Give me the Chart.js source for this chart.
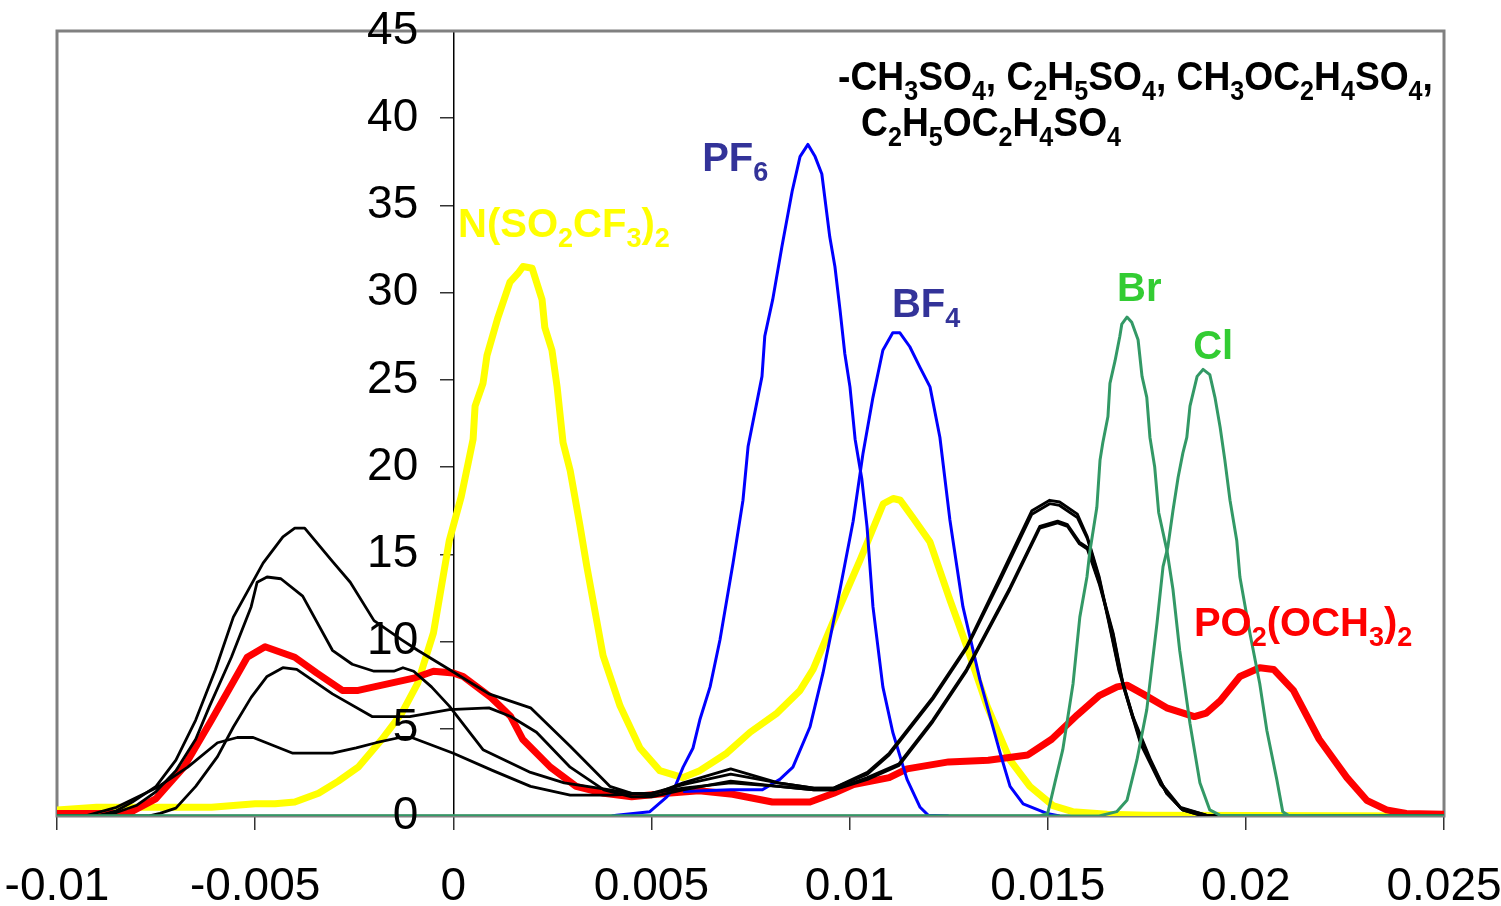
<!DOCTYPE html>
<html>
<head>
<meta charset="utf-8">
<title>Anion distributions</title>
<script src="https://cdn.jsdelivr.net/npm/chart.js@4.4.1/dist/chart.umd.min.js"></script>
<style>
    html, body { margin: 0; padding: 0; background: #ffffff; }
    #wrap { width: 1501px; height: 906px; }
</style>
</head>
<body>
<div id="wrap"><canvas id="anionChart" width="1501" height="906"></canvas></div>
<script>
// axis ticks
const xTickValues = [-0.01, -0.005, 0, 0.005, 0.01, 0.015, 0.02, 0.025];
const xTickLabels = ['-0.01', '-0.005', '0', '0.005', '0.01', '0.015', '0.02', '0.025'];
const yTickValues = [0, 5, 10, 15, 20, 25, 30, 35, 40, 45];
const yTickLabels = ['0', '5', '10', '15', '20', '25', '30', '35', '40', '45'];

// series, [x, y] pairs
const tfsiPoints = [[-0.01, 0.35], [-0.009, 0.5], [-0.0061, 0.5], [-0.005, 0.7], [-0.0045, 0.7], [-0.004, 0.8], [-0.0034, 1.3], [-0.0029, 2.0], [-0.0024, 2.8], [-0.0018, 4.4], [-0.0013, 5.9], [-0.0009, 7.6], [-0.0005, 10.5], [-0.0001, 15.8], [0.0002, 18.3], [0.0005, 21.6], [0.00055, 23.5], [0.00075, 24.8], [0.00085, 26.4], [0.00113, 28.6], [0.00143, 30.6], [0.00163, 31.1], [0.00176, 31.5], [0.00199, 31.4], [0.00224, 29.6], [0.00231, 28.0], [0.00249, 26.7], [0.00262, 24.6], [0.00277, 21.4], [0.00295, 19.8], [0.0032, 16.6], [0.00337, 14.3], [0.00378, 9.2], [0.00421, 6.3], [0.00471, 3.9], [0.00521, 2.6], [0.00579, 2.2], [0.00622, 2.6], [0.0069, 3.6], [0.00749, 4.8], [0.00817, 5.9], [0.00875, 7.2], [0.00908, 8.4], [0.00958, 11.1], [0.01027, 14.7], [0.01085, 17.9], [0.0111, 18.2], [0.01128, 18.1], [0.0116, 17.1], [0.01203, 15.7], [0.01253, 12.4], [0.01296, 9.7], [0.01347, 6.3], [0.01405, 3.2], [0.01455, 1.7], [0.01513, 0.6], [0.01563, 0.25], [0.0165, 0.1], [0.0175, 0.05], [0.025, 0]];
const dmpPoints = [[-0.01, 0.15], [-0.0082, 0.15], [-0.0075, 1.0], [-0.0068, 2.8], [-0.0061, 5.5], [-0.0052, 9.1], [-0.00475, 9.7], [-0.004, 9.1], [-0.00345, 8.2], [-0.0028, 7.2], [-0.0024, 7.2], [-0.001, 7.9], [-0.0005, 8.3], [0, 8.2], [0.00025, 8.0], [0.00095, 6.8], [0.00145, 5.7], [0.00175, 4.4], [0.00245, 2.8], [0.0031, 1.7], [0.0038, 1.3], [0.0045, 1.1], [0.0054, 1.3], [0.0062, 1.45], [0.00705, 1.25], [0.00805, 0.8], [0.009, 0.8], [0.0096, 1.3], [0.0101, 1.8], [0.011, 2.2], [0.01145, 2.7], [0.0125, 3.1], [0.0135, 3.2], [0.0145, 3.5], [0.0151, 4.4], [0.01575, 5.8], [0.0163, 6.9], [0.01675, 7.4], [0.017, 7.5], [0.0174, 7.0], [0.018, 6.2], [0.0187, 5.7], [0.019, 5.9], [0.01935, 6.6], [0.01985, 8.0], [0.02035, 8.5], [0.0207, 8.4], [0.0212, 7.2], [0.02185, 4.4], [0.02255, 2.2], [0.02305, 0.9], [0.02355, 0.35], [0.02405, 0.15], [0.025, 0.1]];
const pf6Points = [[0.004, 0], [0.00412, 0.05], [0.00496, 0.25], [0.00539, 1.1], [0.0056, 1.7], [0.0058, 2.8], [0.00605, 3.9], [0.00622, 5.5], [0.00648, 7.4], [0.00673, 10.1], [0.00706, 14.5], [0.00731, 18.1], [0.00744, 21.2], [0.00779, 25.2], [0.00786, 27.5], [0.00806, 29.6], [0.00829, 32.6], [0.00855, 35.8], [0.00875, 37.8], [0.00895, 38.5], [0.00913, 37.8], [0.0093, 36.8], [0.0095, 33.2], [0.00963, 31.5], [0.00976, 29.0], [0.00988, 26.5], [0.01001, 24.6], [0.01014, 21.6], [0.01031, 19.3], [0.01044, 16.6], [0.01059, 12.0], [0.01084, 7.4], [0.01109, 4.8], [0.01145, 2.1], [0.01178, 0.5], [0.01198, 0.05], [0.0125, 0]];
const bf4Points = [[0.0058, 1.4], [0.007, 1.5], [0.0078, 1.5], [0.00824, 2.1], [0.00857, 2.8], [0.009, 5.1], [0.00933, 8.2], [0.00976, 13.0], [0.01009, 16.9], [0.01034, 20.8], [0.01059, 24.0], [0.01084, 26.7], [0.01109, 27.7], [0.01127, 27.7], [0.01152, 26.9], [0.01178, 25.7], [0.01203, 24.6], [0.01228, 21.7], [0.01253, 17.0], [0.01286, 12.0], [0.01329, 7.8], [0.0138, 3.6], [0.01405, 1.7], [0.01438, 0.7], [0.01498, 0.15], [0.0153, 0]];
const brPoints = [[-0.01, 0], [0.0148, 0], [0.015, 0.15], [0.01518, 1.9], [0.01538, 3.8], [0.01564, 7.6], [0.01581, 11.4], [0.01599, 13.7], [0.01606, 15.1], [0.01624, 17.7], [0.01632, 20.4], [0.01639, 21.4], [0.01652, 22.9], [0.01657, 24.8], [0.0167, 26.1], [0.01682, 27.5], [0.01687, 28.2], [0.017, 28.6], [0.01712, 28.3], [0.01728, 27.3], [0.01738, 25.2], [0.0175, 24.0], [0.01758, 21.7], [0.0177, 20.0], [0.0178, 17.4], [0.01801, 15.2], [0.01816, 13.0], [0.01833, 9.5], [0.01859, 5.3], [0.01884, 1.9], [0.01909, 0.35], [0.01934, 0.05], [0.025, 0]];
const clPoints = [[-0.01, 0], [0.0163, 0], [0.01674, 0.25], [0.017, 0.9], [0.01725, 3.2], [0.0175, 6.1], [0.01776, 11.1], [0.01791, 14.3], [0.01803, 15.4], [0.01816, 17.5], [0.01829, 19.4], [0.01841, 20.8], [0.01851, 21.7], [0.01859, 23.5], [0.01877, 25.2], [0.01892, 25.6], [0.01909, 25.3], [0.01922, 24.0], [0.01935, 22.3], [0.01947, 20.4], [0.0196, 18.1], [0.01977, 15.8], [0.01985, 13.7], [0.0201, 10.5], [0.02035, 7.6], [0.02053, 4.9], [0.02078, 2.1], [0.02093, 0.25], [0.0211, 0], [0.025, 0]];
const sulfateA = [[-0.01, 0], [-0.009, 0], [-0.0085, 0.3], [-0.0081, 0.8], [-0.0075, 1.7], [-0.007, 3.2], [-0.0065, 5.5], [-0.006, 8.4], [-0.00555, 11.4], [-0.0048, 14.5], [-0.0043, 16.0], [-0.004, 16.5], [-0.00375, 16.5], [-0.00305, 14.6], [-0.0026, 13.4], [-0.002, 11.2], [-0.0013, 10.1], [-0.0009, 9.5], [-0.0001, 8.4], [0.0009, 7.0], [0.00195, 6.2], [0.00295, 4.0], [0.00395, 1.7], [0.0045, 1.3], [0.005, 1.2], [0.0058, 1.9], [0.007, 2.7], [0.0082, 1.9], [0.0091, 1.6], [0.0096, 1.6], [0.01045, 2.5], [0.011, 3.6], [0.0121, 6.8], [0.01295, 9.7], [0.0138, 13.7], [0.0146, 17.5], [0.01505, 18.1], [0.0153, 18.0], [0.01575, 17.3], [0.016, 16.0], [0.0163, 13.7], [0.01655, 11.1], [0.0168, 8.4], [0.01715, 5.7], [0.0176, 3.2], [0.018, 1.3], [0.0184, 0.35], [0.01885, 0.05], [0.0195, 0], [0.025, 0]];
const sulfateB = [[-0.01, 0], [-0.009, 0], [-0.0085, 0.2], [-0.008, 0.6], [-0.0075, 1.4], [-0.007, 2.6], [-0.0065, 4.4], [-0.00615, 6.3], [-0.0056, 9.1], [-0.0051, 12.0], [-0.00495, 13.4], [-0.0047, 13.7], [-0.00435, 13.6], [-0.0038, 12.6], [-0.00305, 9.5], [-0.00255, 8.7], [-0.002, 8.3], [-0.0015, 8.3], [-0.00127, 8.5], [-0.001, 8.3], [-0.00055, 7.4], [-0.0001, 6.3], [0.00075, 3.8], [0.00195, 2.5], [0.0028, 1.9], [0.00395, 1.5], [0.0045, 1.3], [0.005, 1.3], [0.0058, 1.8], [0.007, 2.4], [0.0082, 1.9], [0.0091, 1.6], [0.0096, 1.6], [0.01045, 2.4], [0.011, 3.5], [0.0121, 6.7], [0.01295, 9.6], [0.0138, 13.5], [0.0146, 17.3], [0.01505, 17.9], [0.0153, 17.8], [0.01575, 17.1], [0.016, 15.9], [0.0163, 13.6], [0.01655, 11.0], [0.0168, 8.3], [0.01715, 5.6], [0.0176, 3.1], [0.018, 1.3], [0.0184, 0.35], [0.01885, 0.05], [0.0195, 0], [0.025, 0]];
const sulfateC = [[-0.01, 0], [-0.0077, 0], [-0.0074, 0.15], [-0.007, 0.45], [-0.0065, 1.7], [-0.00595, 3.4], [-0.00555, 5.1], [-0.0051, 6.8], [-0.0047, 8.0], [-0.0043, 8.5], [-0.00395, 8.4], [-0.00305, 7.0], [-0.00205, 5.7], [-0.0011, 5.7], [-0.0001, 6.1], [0.0009, 6.2], [0.00145, 5.7], [0.0021, 4.8], [0.00295, 2.8], [0.0038, 1.5], [0.0045, 1.1], [0.005, 1.1], [0.0058, 1.5], [0.007, 2.0], [0.0082, 1.7], [0.0091, 1.5], [0.0096, 1.5], [0.01045, 2.2], [0.01125, 3.0], [0.0121, 5.5], [0.01295, 8.4], [0.01405, 13.1], [0.0148, 16.6], [0.01525, 16.9], [0.0155, 16.7], [0.0158, 15.7], [0.016, 15.4], [0.0163, 13.4], [0.01665, 10.5], [0.0169, 7.6], [0.01735, 4.2], [0.01785, 1.9], [0.01835, 0.5], [0.019, 0.05], [0.0195, 0], [0.025, 0]];
const sulfateD = [[-0.01, 0], [-0.0093, 0], [-0.0085, 0.5], [-0.0075, 1.6], [-0.0067, 2.8], [-0.00595, 4.2], [-0.00545, 4.5], [-0.00505, 4.5], [-0.00405, 3.6], [-0.00305, 3.6], [-0.00245, 3.9], [-0.00195, 4.2], [-0.00135, 4.5], [-0.00105, 4.5], [0, 3.6], [0.001, 2.6], [0.00195, 1.7], [0.00295, 1.2], [0.00395, 1.2], [0.005, 1.3], [0.0058, 1.6], [0.007, 1.9], [0.0082, 1.7], [0.0091, 1.5], [0.0096, 1.5], [0.01045, 2.1], [0.01125, 2.9], [0.0121, 5.4], [0.01295, 8.3], [0.01405, 13.0], [0.0148, 16.5], [0.01525, 16.8], [0.0155, 16.6], [0.0158, 15.6], [0.016, 15.3], [0.0163, 13.3], [0.01665, 10.4], [0.0169, 7.5], [0.01735, 4.1], [0.01785, 1.8], [0.01835, 0.45], [0.019, 0.05], [0.0195, 0], [0.025, 0]];

// text labels: pieces are [text, isSubscript]
const sulfateLine1 = [['-CH', 0], ['3', 1], ['SO', 0], ['4', 1], [', C', 0], ['2', 1], ['H', 0], ['5', 1], ['SO', 0], ['4', 1], [', CH', 0], ['3', 1], ['OC', 0], ['2', 1], ['H', 0], ['4', 1], ['SO', 0], ['4', 1], [',', 0]];
const sulfateLine2 = [['C', 0], ['2', 1], ['H', 0], ['5', 1], ['OC', 0], ['2', 1], ['H', 0], ['4', 1], ['SO', 0], ['4', 1]];
const pf6Text = [['PF', 0], ['6', 1]];
const bf4Text = [['BF', 0], ['4', 1]];
const tfsiText = [['N(SO', 0], ['2', 1], ['CF', 0], ['3', 1], [')', 0], ['2', 1]];
const brText = [['Br', 0]];
const clText = [['Cl', 0]];
const dmpText = [['PO', 0], ['2', 1], ['(OCH', 0], ['3', 1], [')', 0], ['2', 1]];

document.addEventListener("DOMContentLoaded", function () {
    const FONT = '"Liberation Sans", Arial, sans-serif';
    const TICK_FONT = '46px ' + FONT;

    const toXY = pts => pts.map(p => ({ x: p[0], y: p[1] }));

    // labels anchored in data coordinates (left end, baseline)
    const annotations = [
        { parts: sulfateLine1, x: 0.00971, y: 41.6, color: '#000000', size: 40, squeeze: 0.93 },
        { parts: sulfateLine2, x: 0.01029, y: 39.0, color: '#000000', size: 40, squeeze: 0.93 },
        { parts: pf6Text, x: 0.00628, y: 37.0, color: '#333399', size: 40 },
        { parts: tfsiText, x: 0.00012, y: 33.2, color: '#FFFF00', size: 40 },
        { parts: bf4Text, x: 0.01107, y: 28.6, color: '#333399', size: 40 },
        { parts: brText, x: 0.01675, y: 29.5, color: '#33CC33', size: 40 },
        { parts: clText, x: 0.01867, y: 26.2, color: '#33CC33', size: 40 },
        { parts: dmpText, x: 0.01869, y: 10.3, color: '#FF0000', size: 40 }
    ];

    // white page, grey frame round the plot area
    const framePlugin = {
        id: 'frame',
        beforeDraw(chart) {
            const c = chart.ctx;
            c.save();
            c.fillStyle = '#ffffff';
            c.fillRect(0, 0, chart.width, chart.height);
            c.restore();
        },
        beforeDatasetsDraw(chart) {
            const a = chart.chartArea;
            const c = chart.ctx;
            c.save();
            c.strokeStyle = '#808080';
            c.lineWidth = 3;
            c.strokeRect(a.left, a.top, a.right - a.left, a.bottom - a.top);
            c.restore();
        }
    };

    // y tick labels sit left of the axis that crosses at x = 0
    const yLabelPlugin = {
        id: 'yLabels',
        afterDraw(chart) {
            const ys = chart.scales.y;
            const axisX = chart.scales.x.getPixelForValue(0);
            const c = chart.ctx;
            c.save();
            c.font = TICK_FONT;
            c.fillStyle = '#000000';
            c.textAlign = 'right';
            c.textBaseline = 'middle';
            ys.ticks.forEach((t, i) => {
                c.fillText(yTickLabels[i], axisX - 35, ys.getPixelForValue(t.value));
            });
            c.restore();
        }
    };

    // series names with subscript pieces
    const labelPlugin = {
        id: 'anionLabels',
        afterDatasetsDraw(chart) {
            const c = chart.ctx;
            const xs = chart.scales.x, ys = chart.scales.y;
            annotations.forEach(a => {
                const px = xs.getPixelForValue(a.x);
                const py = ys.getPixelForValue(a.y);
                const sub = Math.round(a.size * 0.67);
                c.save();
                c.translate(px, py);
                c.scale(a.squeeze || 1, 1);
                c.fillStyle = a.color;
                c.textBaseline = 'alphabetic';
                c.textAlign = 'left';
                let cx = 0;
                a.parts.forEach(([txt, isSub]) => {
                    c.font = 'bold ' + (isSub ? sub : a.size) + 'px ' + FONT;
                    c.fillText(txt, cx, isSub ? a.size * 0.25 : 0);
                    cx += c.measureText(txt).width;
                });
                c.restore();
            });
        }
    };

    const line = (pts, color, width) => ({
        data: toXY(pts),
        borderColor: color,
        backgroundColor: color,
        borderWidth: width,
        pointRadius: 0,
        tension: 0,
        fill: false,
        borderJoinStyle: 'round'
    });

    const ctx = document.getElementById('anionChart').getContext('2d');
    const anionChart = new Chart(ctx, {
        type: 'line',
        data: {
            // first dataset ends up on top
            datasets: [
                line(brPoints, '#339966', 3),
                line(clPoints, '#339966', 3),
                line(sulfateA, '#000000', 2.8),
                line(sulfateB, '#000000', 2.8),
                line(sulfateC, '#000000', 2.8),
                line(sulfateD, '#000000', 2.8),
                line(pf6Points, '#0000FF', 3),
                line(bf4Points, '#0000FF', 3),
                line(dmpPoints, '#FF0000', 7),
                line(tfsiPoints, '#FFFF00', 7)
            ]
        },
        options: {
            responsive: false,
            animation: false,
            devicePixelRatio: 1,
            layout: { padding: { left: 57, right: 57, top: 31, bottom: 0 } },
            plugins: {
                legend: { display: false },
                tooltip: { enabled: false }
            },
            scales: {
                x: {
                    type: 'linear',
                    position: 'bottom',
                    min: -0.01,
                    max: 0.025,
                    afterBuildTicks: scale => { scale.ticks = xTickValues.map(v => ({ value: v })); },
                    afterFit: scale => {
                        // fixed band under the plot, end labels may spill into the margin
                        scale.height = 90;
                        scale.paddingLeft = 0;
                        scale.paddingRight = 0;
                    },
                    border: { display: false },
                    grid: { drawOnChartArea: false, drawTicks: true, tickLength: 14, color: '#333333', lineWidth: 1.5 },
                    ticks: {
                        autoSkip: false,
                        maxRotation: 0,
                        padding: 30,
                        color: '#000000',
                        font: { family: FONT, size: 46 },
                        callback: (v, i) => xTickLabels[i]
                    }
                },
                y: {
                    type: 'linear',
                    position: { x: 0 },
                    min: 0,
                    max: 45,
                    afterBuildTicks: scale => { scale.ticks = yTickValues.map(v => ({ value: v })); },
                    border: { display: true, color: '#000000', width: 1.5 },
                    grid: { drawOnChartArea: false, drawTicks: true, tickLength: 13, color: '#333333', lineWidth: 1.5 },
                    ticks: { display: false }
                }
            }
        },
        plugins: [framePlugin, yLabelPlugin, labelPlugin]
    });
});
</script>
</body>
</html>
